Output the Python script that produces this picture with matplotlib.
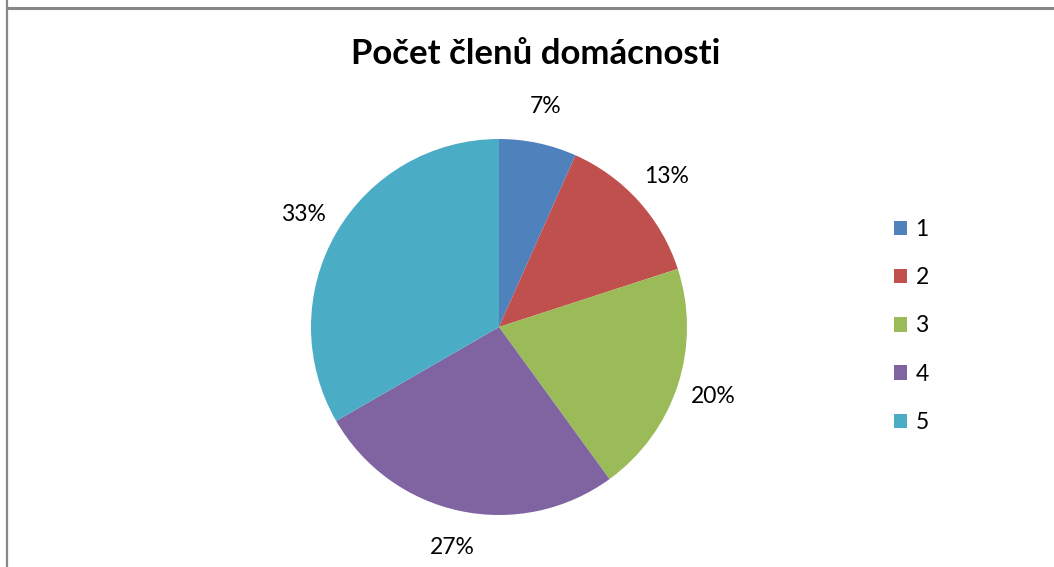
import matplotlib.pyplot as plt
from matplotlib.lines import Line2D

plt.rcParams['font.family'] = ['Lato', 'DejaVu Sans']

# household size and number of respondents
members = ['1', '2', '3', '4', '5']
counts = [2, 4, 6, 8, 10]
colors = ['#4F81BD', '#C0504D', '#9BBB59', '#8064A2', '#4BACC6']

fig = plt.figure(figsize=(10.54, 5.67), dpi=100)

# pie centred at (499, 327) px with radius 188 px
cx, cy, r = 499, 327, 188
ax = fig.add_axes([(cx - r) / 1054, (567 - cy - r) / 567, 2 * r / 1054, 2 * r / 567])
wedges, texts, autotexts = ax.pie(
    counts, colors=colors, startangle=90, counterclock=False,
    autopct=lambda p: '{:.0f}%'.format(p), pctdistance=1.2,
    wedgeprops={'linewidth': 0},
    textprops={'fontsize': 16.5, 'color': 'black'})
ax.set_xlim(-1, 1)
ax.set_ylim(-1, 1)

fig.text(536 / 1054, 1 - 54 / 567, 'Počet členů domácnosti', ha='center', va='center',
         fontsize=25, fontweight='bold')

fig.legend(wedges, members, loc='center left', bbox_to_anchor=(873 / 1054, 1 - 326 / 567),
           frameon=False, fontsize=16.5, handlelength=0.6, handleheight=0.6,
           handletextpad=0.35, labelspacing=1.19)

# chart area border (top and left edges visible)
fig.add_artist(Line2D([7 / 1054, 1], [1 - 7.5 / 567, 1 - 7.5 / 567], color='#888888', linewidth=2.2))
fig.add_artist(Line2D([7 / 1054, 7 / 1054], [0, 1], color='#888888', linewidth=1.6))

fig.savefig('out.png', dpi=100)
